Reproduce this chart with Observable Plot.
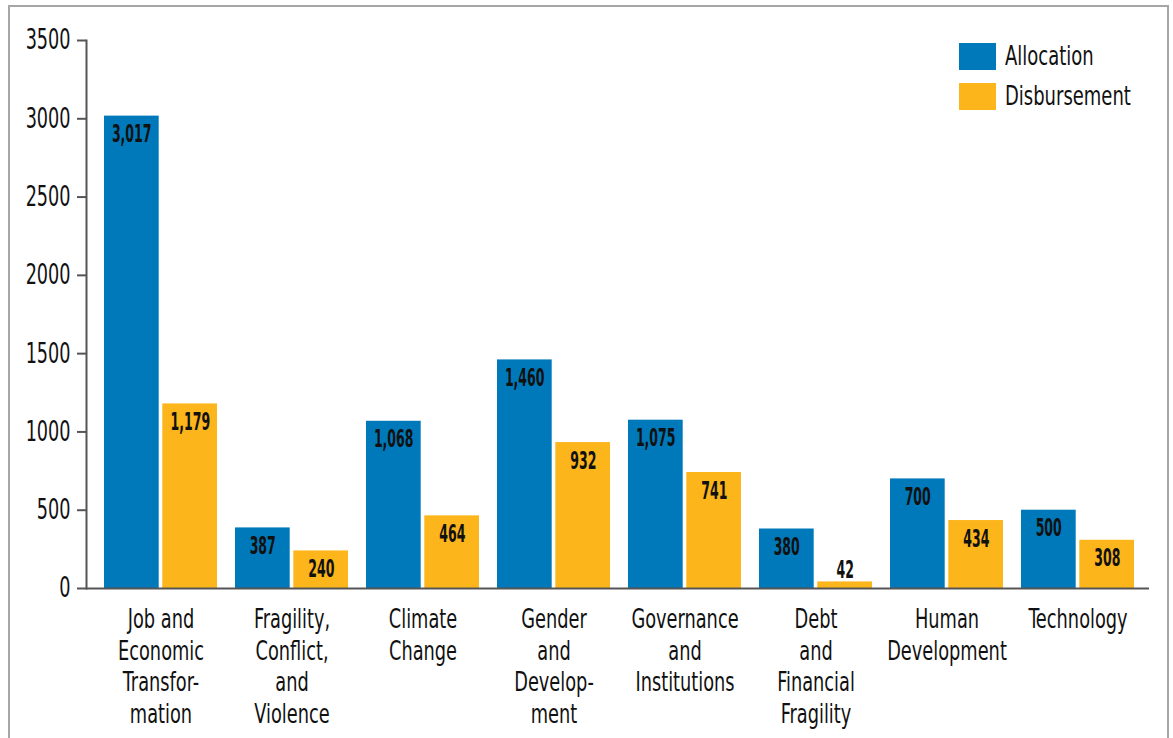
<!DOCTYPE html>
<html>
<head>
<meta charset="utf-8">
<script src="https://cdn.jsdelivr.net/npm/d3@7"></script>
<script src="https://cdn.jsdelivr.net/npm/@observablehq/plot@0.6"></script>
<style>
  body { margin: 0; background: #fff; }
  #wrap { position: relative; width: 1173px; height: 738px; overflow: hidden; background: #fff; }
  #border { position: absolute; left: 8px; top: 5px; width: 1161px; height: 800px; border: 2px solid #a6a6a6; box-sizing: border-box; pointer-events: none; }
  #chart { position: absolute; left: 0; top: 0; }
  .font { font-family: "Liberation Sans Narrow", "DejaVu Sans Condensed", "Roboto Condensed", "Arial Narrow", sans-serif; font-stretch: condensed; }
  .sw { position: absolute; left: 959px; width: 37px; height: 27px; }
  .lt { position: absolute; left: 1005px; font-size: 27px; line-height: 27px; color: #111; white-space: nowrap; transform: scaleX(0.74); transform-origin: 0 50%; }
</style>
</head>
<body>
<div id="wrap" class="font">
  <div id="chart"></div>
  <div id="border"></div>
  <div id="legend"></div>
</div>
<script>
// ---- data ----
const categories = [
  "Job and Economic Transformation",
  "Fragility, Conflict, and Violence",
  "Climate Change",
  "Gender and Development",
  "Governance and Institutions",
  "Debt and Financial Fragility",
  "Human Development",
  "Technology"
];
const categoryLines = [
  ["Job and", "Economic", "Transfor-", "mation"],
  ["Fragility,", "Conflict,", "and", "Violence"],
  ["Climate", "Change"],
  ["Gender", "and", "Develop-", "ment"],
  ["Governance", "and", "Institutions"],
  ["Debt", "and", "Financial", "Fragility"],
  ["Human", "Development"],
  ["Technology"]
];
const series = ["Allocation", "Disbursement"];
const allocation = [3017, 387, 1068, 1460, 1075, 380, 700, 500];
const disbursement = [1179, 240, 464, 932, 741, 42, 434, 308];
const yTicks = [0, 500, 1000, 1500, 2000, 2500, 3000, 3500];
const colors = ["#0079ba", "#fcb51a"];

// ---- table ----
const rows = categories.flatMap((c, i) => [
  {cat: c, series: series[0], value: allocation[i]},
  {cat: c, series: series[1], value: disbursement[i]}
]);
const lineMap = new Map(categories.map((c, i) => [c, categoryLines[i].join("\n")]));
const fmt = d3.format(",");
const FONT = "'Liberation Sans Narrow', 'DejaVu Sans Condensed', 'Roboto Condensed', 'Arial Narrow', sans-serif";

const alloc = rows.filter(d => d.series === series[0]);
const disb = rows.filter(d => d.series === series[1]);
const inside = d => d.value >= 150;
const outside = d => d.value < 150;

const barInset = 58.3;
const half = 29.3;
const labelStyle = {fontWeight: "bold", fontSize: 24, fill: "#111"};

const chart = Plot.plot({
  width: 1173,
  height: 738,
  marginLeft: 86,
  marginRight: 24,
  marginTop: 40,
  marginBottom: 150,
  style: {fontFamily: FONT, fontSize: "26px", color: "#111", background: "transparent"},
  x: {domain: categories, paddingInner: 0.14, paddingOuter: 0.12, align: 0.55, label: null, axis: null},
  y: {domain: [0, 3500], label: null, axis: null},
  color: {domain: series, range: colors},
  marks: [
    Plot.barY(alloc, {x: "cat", y: "value", fill: "series", insetRight: barInset}),
    Plot.barY(disb, {x: "cat", y: "value", fill: "series", insetLeft: barInset}),
    Plot.text(alloc.filter(inside), {x: "cat", y: "value", text: d => fmt(d.value), dx: -half, dy: 9, lineAnchor: "top", ...labelStyle}),
    Plot.text(disb.filter(inside), {x: "cat", y: "value", text: d => fmt(d.value), dx: half, dy: 9, lineAnchor: "top", ...labelStyle}),
    Plot.text(alloc.filter(outside), {x: "cat", y: "value", text: d => fmt(d.value), dx: -half, dy: -4, lineAnchor: "bottom", ...labelStyle}),
    Plot.text(disb.filter(outside), {x: "cat", y: "value", text: d => fmt(d.value), dx: half, dy: -4, lineAnchor: "bottom", ...labelStyle}),
    Plot.axisY({ticks: yTicks, tickSize: 9, tickPadding: 7, tickFormat: d => String(d), fontSize: 28, stroke: "#555", strokeWidth: 2, fill: "#111", label: null}),
    Plot.axisX({tickSize: 0, tickPadding: 17, tickFormat: c => lineMap.get(c), lineHeight: 1.22, fontSize: 26, fill: "#111", label: null}),
    Plot.frame({anchor: "left", stroke: "#555", strokeWidth: 2}),
    Plot.ruleY([0], {stroke: "#555", strokeWidth: 2})
  ]
});
document.getElementById("chart").appendChild(chart);

// Condense glyphs horizontally to imitate the narrow typeface of the original
const squeeze = {"28px": 0.70, "26px": 0.76, "24px": 0.58};
chart.querySelectorAll("text").forEach(t => {
  const f = squeeze[getComputedStyle(t).fontSize] || 0.75;
  const spans = t.querySelectorAll("tspan");
  const targets = spans.length ? Array.from(spans) : [t];
  targets.forEach(el => {
    const w = el.getComputedTextLength();
    if (w > 0) {
      el.setAttribute("textLength", (w * f).toFixed(2));
      el.setAttribute("lengthAdjust", "spacingAndGlyphs");
    }
  });
});

// ---- legend ----
const legend = document.getElementById("legend");
series.forEach((s, i) => {
  const sw = document.createElement("div");
  sw.className = "sw";
  sw.style.top = (43 + i * 40) + "px";
  sw.style.background = colors[i];
  legend.appendChild(sw);
  const t = document.createElement("div");
  t.className = "lt";
  t.style.top = (42 + i * 40) + "px";
  t.textContent = s;
  legend.appendChild(t);
});
</script>
</body>
</html>
